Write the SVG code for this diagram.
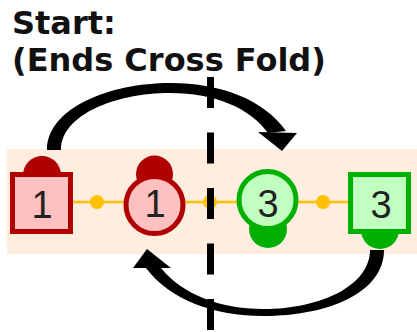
<svg xmlns="http://www.w3.org/2000/svg" width="417" height="332" viewBox="0 0 417 332">
<style>
.title{font-family:"DejaVu Sans",Verdana,sans-serif;font-weight:bold;font-size:32px;fill:#111}
.num{font-family:"Liberation Sans",Arial,sans-serif;font-size:38px;fill:#222;text-anchor:middle}
.red{fill:#ffc0c0;stroke:#b00000;stroke-width:5}
.redcap{fill:#b00000}
.green{fill:#c0ffc0;stroke:#00b000;stroke-width:5}
.greencap{fill:#00b000}
.link{stroke:#ffc000;stroke-width:2.5;fill:none}
.dot{fill:#ffc000}
.arc{fill:#000}
</style>
<rect id="band" x="7" y="149" width="410" height="105" fill="#ffeedf"/>
<text class="title" x="12" y="34">Start:</text>
<text class="title" x="12" y="71">(Ends Cross Fold)</text>
<g id="links">
<line class="link" x1="70" y1="202" x2="352" y2="202"/>
<circle class="dot" cx="97" cy="202" r="7"/>
<circle class="dot" cx="210" cy="202" r="7"/>
<circle class="dot" cx="323" cy="202" r="7"/>
</g>
<g id="node-red-square">
<circle class="redcap" cx="42" cy="175" r="19"/>
<rect class="red" x="12.5" y="174.5" width="58" height="57"/>
<text class="num" x="42" y="218">1</text>
</g>
<g id="node-red-circle">
<circle class="redcap" cx="154.5" cy="174" r="18.5"/>
<circle class="red" cx="154.5" cy="205" r="28.5"/>
<text class="num" x="155" y="217">1</text>
</g>
<g id="node-green-circle">
<circle class="greencap" cx="268" cy="229" r="19"/>
<circle class="green" cx="267.5" cy="200" r="28.5"/>
<text class="num" x="268" y="217">3</text>
</g>
<g id="node-green-square">
<circle class="greencap" cx="380" cy="230" r="19"/>
<rect class="green" x="350.5" y="174.5" width="58" height="57"/>
<text class="num" x="381" y="218">3</text>
</g>
<g id="connectors">
<path class="arc" d="M47 150 C47 108 110 83 170 83 C222 83 264 100 286 131 L268 133 C250 108 215 93 170 93 C115 93 61 115 61 150 Z"/>
<polygon class="arc" points="258,132 297,133 282,151"/>
<path class="arc" d="M384 250 C384 292 330 316 263 316 C214 316 170 300 146 268 L161 268 C182 294 220 309 263 309 C322 309 370 285 370 250 Z"/>
<polygon class="arc" points="147,249 133,268 171,268"/>
<line x1="210.5" y1="77" x2="210.5" y2="332" stroke="#000" stroke-width="7" stroke-dasharray="31 24.5"/>
</g>
</svg>
